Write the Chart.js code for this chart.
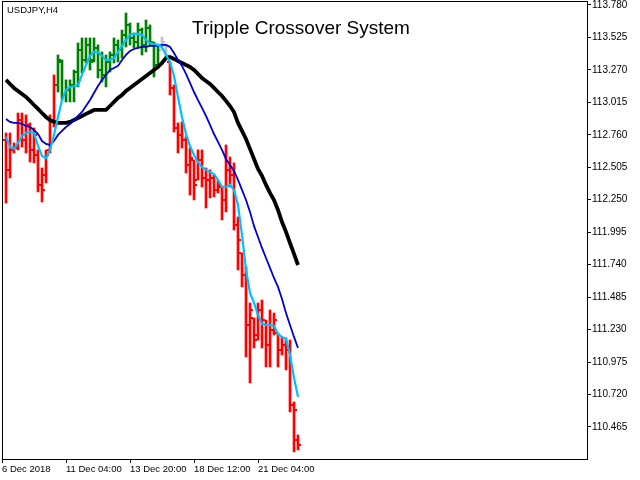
<!DOCTYPE html>
<html>
<head>
<meta charset="utf-8">
<title>Tripple Crossover System</title>
<script src="https://cdn.jsdelivr.net/npm/chart.js@4.4.1/dist/chart.umd.min.js"></script>
<style>
  html, body { margin: 0; padding: 0; background: #fff; }
  canvas { display: block; }
</style>
</head>
<body>
<canvas id="myChart" width="640" height="480"></canvas>
<script>
// USDJPY H4 bars (one bar every 4 hours)

const symbolLabel = 'USDJPY,H4'
const titleText = 'Tripple Crossover System'

const opens = [
  112.719, 112.484, 112.641, 112.656, 112.876, 112.719, 112.837, 112.641, 112.601, 112.366,
  112.444, 112.641, 112.876, 113.151, 113.332, 113.073, 113.112, 113.151, 113.253, 113.426,
  113.348, 113.466, 113.348, 113.442, 113.269, 113.230, 113.332, 113.387, 113.466, 113.426,
  113.544, 113.623, 113.521, 113.489, 113.583, 113.466, 113.599, 113.489, 113.308, 113.426,
  113.466, 113.332, 113.128, 112.814, 112.759, 112.719, 112.523, 112.562, 112.405, 112.562,
  112.421, 112.405, 112.421, 112.327, 112.350, 112.248, 112.484, 112.444, 112.052, 111.832,
  111.659, 111.266, 111.321, 111.188, 111.384, 111.305, 111.109, 111.227, 111.203, 111.070,
  111.109, 111.070, 110.638, 110.363
]
const highs = [
  112.774, 112.774, 112.696, 112.931, 112.931, 112.916, 112.853, 112.814, 112.641, 112.499,
  112.641, 112.916, 113.230, 113.387, 113.348, 113.191, 113.191, 113.269, 113.481, 113.521,
  113.521, 113.521, 113.521, 113.466, 113.411, 113.387, 113.411, 113.521, 113.505, 113.583,
  113.717, 113.638, 113.560, 113.638, 113.599, 113.662, 113.623, 113.489, 113.466, 113.528,
  113.466, 113.332, 113.151, 112.853, 112.861, 112.743, 112.656, 112.562, 112.641, 112.641,
  112.499, 112.484, 112.444, 112.405, 112.350, 112.680, 112.586, 112.539, 112.114, 111.832,
  111.722, 111.439, 111.321, 111.439, 111.462, 111.305, 111.384, 111.360, 111.203, 111.172,
  111.164, 111.148, 110.661, 110.402
]
const lows = [
  112.224, 112.421, 112.617, 112.641, 112.664, 112.617, 112.546, 112.539, 112.311, 112.232,
  112.382, 112.617, 112.821, 113.096, 113.033, 113.018, 113.018, 113.018, 113.136, 113.246,
  113.324, 113.269, 113.332, 113.206, 113.175, 113.136, 113.253, 113.324, 113.332, 113.363,
  113.450, 113.466, 113.442, 113.442, 113.387, 113.411, 113.466, 113.214, 113.285, 113.426,
  113.363, 113.073, 112.782, 112.617, 112.656, 112.460, 112.287, 112.248, 112.405, 112.350,
  112.185, 112.264, 112.272, 112.303, 112.091, 112.154, 112.350, 112.012, 111.698, 111.565,
  111.015, 110.811, 111.085, 111.148, 111.085, 110.936, 110.936, 111.188, 110.936, 111.030,
  110.913, 110.583, 110.269, 110.284
]
const closes = [
  112.484, 112.641, 112.656, 112.876, 112.719, 112.837, 112.641, 112.759, 112.366, 112.327,
  112.601, 112.876, 113.151, 113.348, 113.073, 113.112, 113.151, 113.253, 113.426, 113.348,
  113.466, 113.332, 113.442, 113.269, 113.230, 113.332, 113.387, 113.466, 113.426, 113.544,
  113.623, 113.521, 113.489, 113.583, 113.466, 113.599, 113.489, 113.308, 113.426, 113.489,
  113.387, 113.128, 112.814, 112.759, 112.719, 112.523, 112.578, 112.366, 112.562, 112.421,
  112.405, 112.421, 112.327, 112.366, 112.248, 112.484, 112.444, 112.052, 111.934, 111.659,
  111.266, 111.384, 111.148, 111.384, 111.305, 111.109, 111.227, 111.305, 111.070, 111.109,
  111.070, 110.638, 110.598, 110.324
]

// the three moving averages
const slowMA = [
  113.191, 113.159, 113.128, 113.104, 113.081, 113.057, 113.026, 112.994, 112.963, 112.931,
  112.900, 112.876, 112.861, 112.853, 112.853, 112.853, 112.861, 112.876, 112.892, 112.908,
  112.924, 112.939, 112.955, 112.955, 112.955, 112.955, 112.986, 113.018, 113.049, 113.073,
  113.104, 113.128, 113.151, 113.175, 113.198, 113.222, 113.246, 113.269, 113.293, 113.324,
  113.363, 113.371, 113.356, 113.340, 113.324, 113.308, 113.293, 113.269, 113.238, 113.206,
  113.183, 113.159, 113.128, 113.096, 113.065, 113.026, 112.986, 112.939, 112.853, 112.790,
  112.727, 112.649, 112.570, 112.492, 112.437, 112.366, 112.303, 112.248, 112.169, 112.075,
  111.997, 111.910, 111.824, 111.737
]
const midMA = [
  112.884, 112.861, 112.853, 112.853, 112.845, 112.829, 112.821, 112.798, 112.766, 112.711,
  112.688, 112.680, 112.711, 112.759, 112.790, 112.821, 112.845, 112.876, 112.908, 112.939,
  112.986, 113.033, 113.088, 113.143, 113.191, 113.230, 113.269, 113.285, 113.301, 113.348,
  113.387, 113.418, 113.434, 113.442, 113.450, 113.450, 113.458, 113.458, 113.458, 113.466,
  113.466, 113.450, 113.403, 113.348, 113.301, 113.238, 113.167, 113.096, 113.033, 112.971,
  112.908, 112.837, 112.766, 112.704, 112.641, 112.570, 112.523, 112.476, 112.405, 112.327,
  112.248, 112.154, 112.044, 111.957, 111.871, 111.792, 111.714, 111.635, 111.565, 111.470,
  111.360, 111.266, 111.172, 111.085
]
const fastMA = [
  112.743, 112.664, 112.649, 112.696, 112.751, 112.774, 112.782, 112.774, 112.672, 112.594,
  112.578, 112.641, 112.759, 112.900, 113.033, 113.112, 113.136, 113.143, 113.151, 113.230,
  113.308, 113.379, 113.411, 113.411, 113.379, 113.348, 113.348, 113.363, 113.411, 113.458,
  113.505, 113.544, 113.552, 113.552, 113.544, 113.505, 113.481, 113.473, 113.466, 113.450,
  113.387, 113.332, 113.222, 113.057, 112.900, 112.766, 112.672, 112.601, 112.546, 112.507,
  112.484, 112.468, 112.452, 112.405, 112.350, 112.350, 112.366, 112.327, 112.209, 111.973,
  111.698, 111.517, 111.439, 111.345, 111.274, 111.266, 111.266, 111.258, 111.195, 111.172,
  111.156, 111.030, 110.850, 110.701
]

// system state per bar: 1 = up (green), -1 = down (red), 0 = no signal (gray)
const trend = [
  -1, -1, -1, -1, -1, -1, -1, -1, -1, -1, -1, -1, -1,
  1, 1, 1, 1, 1, 1, 1, 1, 1, 1, 1, 1, 1, 1, 1, 1, 1, 1, 1, 1, 1, 1, 1, 1, 1, 1,
  0, 0,
  -1, -1, -1, -1, -1, -1, -1, -1, -1, -1, -1, -1, -1, -1, -1, -1, -1,
  -1, -1, -1, -1, -1, -1, -1, -1, -1, -1, -1, -1, -1, -1, -1, -1
]

// axis labels
const xTickPos = [-1, 15, 31, 47, 63]
const xTickLabels = ['6 Dec 2018', '11 Dec 04:00', '13 Dec 20:00', '18 Dec 12:00', '21 Dec 04:00']
const yTicks = [113.780, 113.525, 113.270, 113.015, 112.760, 112.505, 112.250,
  111.995, 111.740, 111.485, 111.230, 110.975, 110.720, 110.465]

const trendColor = { '1': '#008000', '-1': '#ff0000', '0': '#c0c0c0' }
const barColors = trend.map(t => trendColor[t])

// open tick on the left, close tick on the right of every bar
const ohlcTicks = {
  id: 'ohlcTicks',
  beforeDatasetsDraw(chart) {
    const ctx = chart.ctx
    const xs = chart.scales.x
    const ys = chart.scales.y
    ctx.save()
    opens.forEach((o, i) => {
      const x = Math.round(xs.getPixelForValue(i))
      ctx.fillStyle = barColors[i]
      ctx.fillRect(x - 3, Math.round(ys.getPixelForValue(o)) - 1, 2, 2)
      ctx.fillRect(x + 1, Math.round(ys.getPixelForValue(closes[i])) - 1, 2, 2)
    })
    ctx.restore()
  }
}

// frame round the plot and the two captions
const frame = {
  id: 'frame',
  afterDraw(chart) {
    const ctx = chart.ctx
    const a = chart.chartArea
    ctx.save()
    ctx.strokeStyle = '#000'
    ctx.lineWidth = 1
    ctx.strokeRect(a.left + 0.5, a.top + 0.5, a.right - a.left, a.bottom - a.top)
    ctx.fillStyle = '#000'
    ctx.textBaseline = 'alphabetic'
    ctx.font = '9.5px "Liberation Sans"'
    ctx.fillText(symbolLabel, a.left + 5, a.top + 12)
    ctx.font = '19px "Liberation Sans"'
    ctx.textAlign = 'center'
    ctx.fillText(titleText, 301, a.top + 33)
    ctx.restore()
  }
}

const idx = opens.map((o, i) => i)
const line = (arr) => idx.map(i => ({ x: i, y: arr[i] }))

new Chart('myChart', {
  type: 'bar',
  data: {
    datasets: [
      {
        type: 'line', label: 'fast', data: line(fastMA), order: 1,
        borderColor: '#00bfff', borderWidth: 2.2, pointRadius: 0, tension: 0
      },
      {
        type: 'line', label: 'mid', data: line(midMA), order: 2,
        borderColor: '#0000cd', borderWidth: 1.8, pointRadius: 0, tension: 0
      },
      {
        type: 'line', label: 'slow', data: line(slowMA), order: 3,
        borderColor: '#000000', borderWidth: 3.8, pointRadius: 0, tension: 0
      },
      {
        type: 'bar', label: 'USDJPY', order: 10,
        data: idx.map(i => ({ x: i, y: [lows[i], highs[i]] })),
        backgroundColor: barColors, borderWidth: 0, barThickness: 2
      }
    ]
  },
  options: {
    responsive: false,
    animation: false,
    devicePixelRatio: 1,
    layout: { padding: { left: 2, top: 1, right: 0, bottom: 0 } },
    plugins: {
      legend: { display: false },
      title: { display: false },
      tooltip: { enabled: false }
    },
    scales: {
      x: {
        type: 'linear', min: -1, max: 145.25, offset: false,
        afterBuildTicks: s => { s.ticks = xTickPos.map(v => ({ value: v })) },
        afterFit: s => { s.height = 21; s.paddingLeft = 0; s.paddingRight = 0 },
        grid: { drawOnChartArea: false, offset: false, tickLength: 4, color: '#000' },
        border: { display: false },
        ticks: {
          autoSkip: false, maxRotation: 0, align: 'start', padding: 1, color: '#000',
          font: { family: 'Liberation Sans', size: 9.5 },
          callback: (v, i) => xTickLabels[i]
        }
      },
      y: {
        position: 'right', min: 110.213, max: 113.811,
        afterBuildTicks: s => { s.ticks = yTicks.map(v => ({ value: v })) },
        afterFit: s => { s.width = 53; s.paddingTop = 0; s.paddingBottom = 0 },
        grid: { drawOnChartArea: false, tickLength: 4, color: '#000' },
        border: { display: false },
        ticks: {
          padding: 1, color: '#000',
          font: { family: 'Liberation Sans', size: 10 },
          callback: v => v.toFixed(3)
        }
      }
    }
  },
  plugins: [ohlcTicks, frame]
})
</script>
</body>
</html>
